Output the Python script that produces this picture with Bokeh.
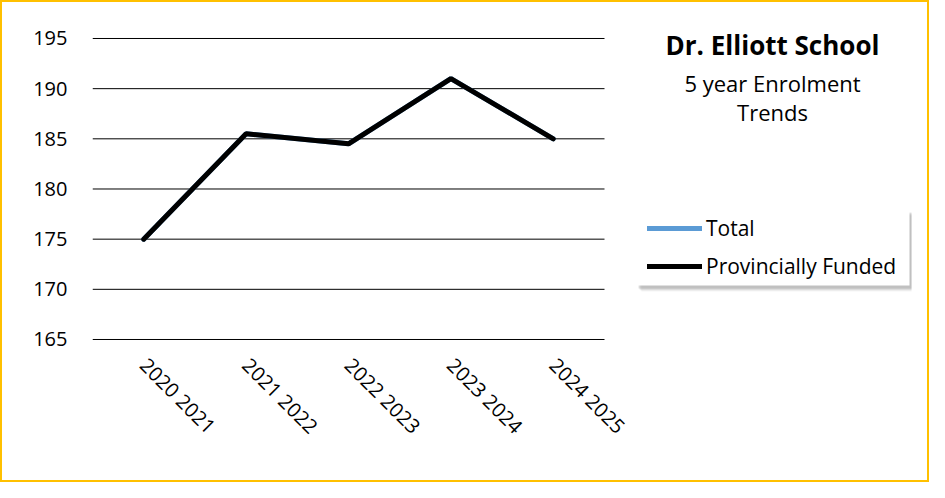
import math
from bokeh.plotting import figure
from bokeh.models import Range1d, Legend, LegendItem, Label, FixedTicker, ColumnDataSource, BoxAnnotation
from bokeh.embed import file_html
from bokeh.resources import INLINE

# ---- data ----
years = ["2020 2021", "2021 2022", "2022 2023", "2023 2024", "2024 2025"]
total = [175, 185.5, 184.5, 191, 185]
prov_funded = [175, 185.5, 184.5, 191, 185]
y_ticks = [165, 170, 175, 180, 185, 190, 195]
title_text = "Dr. Elliott School"
subtitle_lines = ["5 year Enrolment", "Trends"]
series_names = ["Total", "Provincially Funded"]

FONT = "Open Sans"

# category positions (1..n) on a numeric axis; labels from `years`
xpos = list(range(1, len(years) + 1))
PX_PER_CAT = 102.4
FRAME_W = 819
PX_PER_UNIT = 301 / 30.0
FRAME_H = 335
Y_MIN = 164.8

p = figure(
    x_range=Range1d(0.5, 0.5 + FRAME_W / PX_PER_CAT),
    y_range=Range1d(Y_MIN, Y_MIN + FRAME_H / PX_PER_UNIT),
    frame_width=FRAME_W, frame_height=FRAME_H,
    min_border_left=90, min_border_right=16,
    min_border_top=4, min_border_bottom=139,
    output_backend="svg", toolbar_location=None,
)
p.styles = {"border": "2px solid #FFC000"}
p.outline_line_color = None
p.background_fill_color = "white"
p.border_fill_color = "white"
p.grid.grid_line_color = None

# horizontal gridlines across the category span only
p.segment(x0=[0.5] * len(y_ticks), x1=[len(years) + 0.5] * len(y_ticks),
          y0=y_ticks, y1=y_ticks, line_color="black", line_width=1)

src = ColumnDataSource(dict(x=xpos, total=total, prov=prov_funded))
r_total = p.line("x", "total", source=src, line_color="#5B9BD5", line_width=5, line_cap="round")
r_prov = p.line("x", "prov", source=src, line_color="black", line_width=5, line_cap="round")

# y axis
p.yaxis.ticker = FixedTicker(ticks=y_ticks)
p.yaxis.axis_line_color = None
p.yaxis.major_tick_line_color = None
p.yaxis.minor_tick_line_color = None
p.yaxis.major_tick_out = 0
p.yaxis.major_tick_in = 0
p.yaxis.major_label_standoff = 25
p.yaxis.major_label_text_font = FONT
p.yaxis.major_label_text_font_size = "20px"
p.yaxis.major_label_text_color = "black"

# x axis
p.xaxis.ticker = FixedTicker(ticks=xpos)
p.xaxis.major_label_overrides = {k: v for k, v in zip(xpos, years)}
p.xaxis.axis_line_color = None
p.xaxis.major_tick_line_color = None
p.xaxis.minor_tick_line_color = None
p.xaxis.major_tick_out = 0
p.xaxis.major_tick_in = 0
p.xaxis.major_label_orientation = -math.pi / 4
p.xaxis.major_label_standoff = 20
p.xaxis.major_label_text_font = FONT
p.xaxis.major_label_text_font_size = "20px"
p.xaxis.major_label_text_color = "black"

# title block
p.add_layout(Label(x=680, y=297, x_units="screen", y_units="screen", text=title_text,
                   text_align="center", text_baseline="alphabetic",
                   text_font=FONT, text_font_style="bold", text_font_size="26px", text_color="black"))
p.add_layout(Label(x=680, y=259, x_units="screen", y_units="screen", text=subtitle_lines[0],
                   text_align="center", text_baseline="alphabetic",
                   text_font=FONT, text_font_size="22px", text_color="black"))
p.add_layout(Label(x=680, y=230, x_units="screen", y_units="screen", text=subtitle_lines[1],
                   text_align="center", text_baseline="alphabetic",
                   text_font=FONT, text_font_size="22px", text_color="black"))

# legend panel: soft shadow + white box, drawn behind the legend items
BOX_L, BOX_R, BOX_B, BOX_T = 543, 817, 56, 132
for off, alpha in [(6, 0.08), (5, 0.12), (4, 0.18), (3, 0.22)]:
    p.add_layout(BoxAnnotation(left=BOX_L + off, right=BOX_R + off,
                               bottom=BOX_B - off, top=BOX_T - off,
                               left_units="screen", right_units="screen",
                               bottom_units="screen", top_units="screen",
                               fill_color="#7f7f7f", fill_alpha=alpha, line_color=None))
p.add_layout(BoxAnnotation(left=BOX_L, right=BOX_R, bottom=BOX_B, top=BOX_T,
                           left_units="screen", right_units="screen",
                           bottom_units="screen", top_units="screen",
                           fill_color="white", fill_alpha=1.0, line_color=None))

legend = Legend(
    items=[LegendItem(label=series_names[0], renderers=[r_total]),
           LegendItem(label=series_names[1], renderers=[r_prov])],
    location=(555, 61),
)
legend.label_text_font = FONT
legend.label_text_font_size = "21px"
legend.label_text_color = "black"
legend.glyph_width = 55
legend.glyph_height = 20
legend.label_standoff = 4
legend.spacing = 10
legend.padding = 6
legend.margin = 0
legend.border_line_color = None
legend.background_fill_alpha = 0.0
p.add_layout(legend)

open("out.html", "w").write(file_html(p, INLINE))
